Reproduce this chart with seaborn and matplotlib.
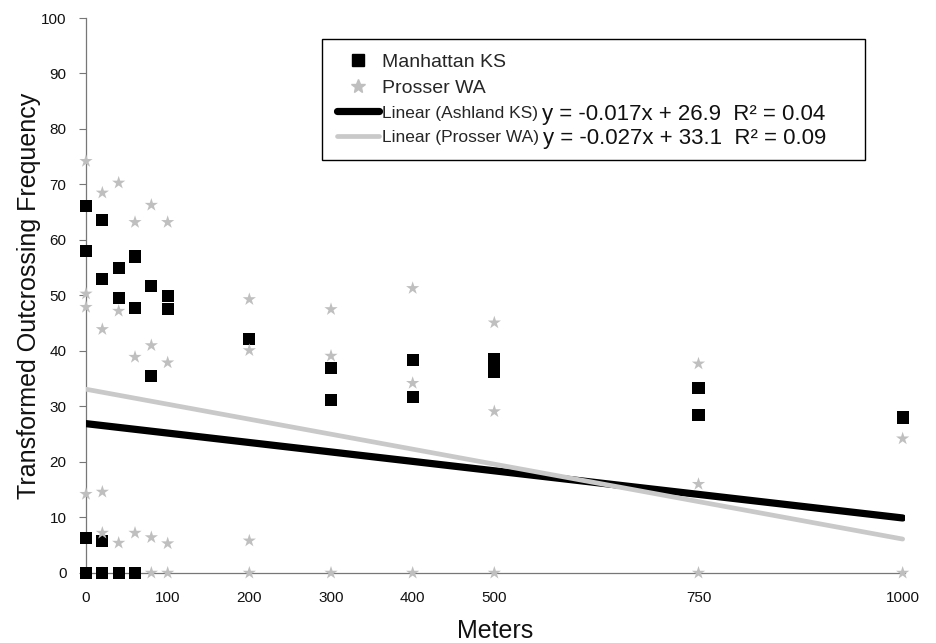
import numpy as np
import pandas as pd
import matplotlib
matplotlib.use("Agg")
import matplotlib.pyplot as plt
from matplotlib.lines import Line2D
from matplotlib import font_manager
import seaborn as sns

# Distance from source (m) and transformed outcrossing frequency
manhattan_x = [0, 0, 0, 0, 20, 20, 20, 20, 40, 40, 40, 60, 60, 60, 80, 80,
               100, 100, 200, 300, 300, 400, 400, 500, 500, 750, 750, 1000]
manhattan_y = [66.1, 58.0, 6.3, 0, 63.6, 53.0, 5.8, 0, 54.9, 49.6, 0, 57.0, 47.8, 0, 51.7, 35.5,
               49.9, 47.5, 42.2, 36.9, 31.2, 38.4, 31.7, 38.6, 36.3, 33.3, 28.4, 28.0]

prosser_x = [0, 0, 0, 0, 20, 20, 20, 20, 40, 40, 40, 60, 60, 60, 80, 80, 80, 80,
             100, 100, 100, 100, 200, 200, 200, 200, 300, 300, 300, 400, 400, 400,
             500, 500, 500, 750, 750, 750, 1000, 1000]
prosser_y = [74.2, 50.3, 47.9, 14.2, 68.5, 43.9, 14.6, 7.2, 70.3, 47.2, 5.4, 63.2, 38.9, 7.2,
             66.3, 41.0, 6.4, 0, 63.2, 37.9, 5.3, 0, 49.3, 40.1, 5.8, 0, 47.5, 39.1, 0,
             51.3, 34.2, 0, 45.1, 29.1, 0, 37.7, 16.0, 0, 24.2, 0]

# Linear trend lines as reported
trend_names = ["Ashland KS", "Prosser WA"]
trend_slopes = [-0.017, -0.027]
trend_intercepts = [26.9, 33.1]
trend_r2 = ["0.04", "0.09"]
trend_range = [0, 1000]

x_ticks = [0, 100, 200, 300, 400, 500, 750, 1000]
y_ticks = list(range(0, 101, 10))

sns.set_theme(style="white")
plt.rcParams["font.family"] = ["Liberation Sans", "DejaVu Sans"]

installed = {f.name for f in font_manager.fontManager.ttflist}
narrow_family = "Liberation Sans Narrow" if "Liberation Sans Narrow" in installed else "Liberation Sans"
narrow_size = 13.5 if narrow_family == "Liberation Sans Narrow" else 12.5

points = pd.concat([
    pd.DataFrame({"Meters": manhattan_x, "Freq": manhattan_y, "Site": "Manhattan KS"}),
    pd.DataFrame({"Meters": prosser_x, "Freq": prosser_y, "Site": "Prosser WA"}),
], ignore_index=True)

trend_rows = []
for name, m, b in zip(trend_names, trend_slopes, trend_intercepts):
    for xv in trend_range:
        trend_rows.append({"Meters": xv, "Freq": m * xv + b, "Fit": name})
trends = pd.DataFrame(trend_rows)

fig = plt.figure(figsize=(9.36, 6.43), dpi=100)
ax = fig.add_axes([0.0919, 0.109, 0.8751, 0.863])

black = "#000000"
grey = "#bfbfbf"
grey_line = "#c9c9c9"

sns.scatterplot(data=points[points.Site == "Manhattan KS"], x="Meters", y="Freq",
                marker="s", s=78, color=black, edgecolor="none", ax=ax,
                clip_on=False, zorder=3, legend=False)
sns.scatterplot(data=points[points.Site == "Prosser WA"], x="Meters", y="Freq",
                marker="*", s=100, color=grey, edgecolor="none", ax=ax,
                clip_on=False, zorder=4, legend=False)

sns.lineplot(data=trends[trends.Fit == "Ashland KS"], x="Meters", y="Freq",
             color=black, lw=5.2, ax=ax, zorder=5, legend=False)
sns.lineplot(data=trends[trends.Fit == "Prosser WA"], x="Meters", y="Freq",
             color=grey_line, lw=3.4, ax=ax, zorder=5, legend=False)

ax.set_xlim(0, 1003)
ax.set_ylim(0, 100)
ax.set_xticks(x_ticks)
ax.set_yticks(y_ticks)
ax.tick_params(axis="x", length=0, labelsize=11, pad=13, labelcolor="#111111")
ax.tick_params(axis="y", left=True, length=5, width=0.8, color="#777777",
               labelsize=11, pad=9, labelcolor="#111111")
for side in ("top", "right"):
    ax.spines[side].set_visible(False)
for side in ("left", "bottom"):
    ax.spines[side].set_color("#777777")
    ax.spines[side].set_linewidth(0.9)

ax.set_xlabel("Meters", fontsize=18, labelpad=10, color="#111111")
ax.set_ylabel("Transformed Outcrossing Frequency", fontsize=18, labelpad=0, color="#111111")

labels = ["Manhattan KS", "Prosser WA"] + [f"Linear ({n})" for n in trend_names]
handles = [
    Line2D([], [], ls="none", marker="s", ms=8, color=black),
    Line2D([], [], ls="none", marker="*", ms=10, color=grey),
    Line2D([], [], color=black, lw=5.2),
    Line2D([], [], color=grey_line, lw=3.4),
]
leg = ax.legend(handles, labels, loc="upper left",
                bbox_to_anchor=(0.288, 0.75, 0.663, 0.212), mode="expand",
                fontsize=14, frameon=True, fancybox=False, edgecolor="black",
                framealpha=1, borderpad=0.75, labelspacing=0.4, handlelength=2.2,
                handletextpad=0.15, borderaxespad=0)
leg.get_frame().set_linewidth(1.0)

# Fit equations follow the "Linear (...)" entries in a larger type
leg_texts = leg.get_texts()
for i, (m, b, r2) in enumerate(zip(trend_slopes, trend_intercepts, trend_r2)):
    t = leg_texts[2 + i]
    t.set_fontfamily([narrow_family, "DejaVu Sans"])
    t.set_fontsize(narrow_size)
    ax.annotate(f"y = {m:g}x + {b:g}  R² = {r2}", xy=(1, 0.5), xycoords=t,
                xytext=(3, -0.5), textcoords="offset points", ha="left", va="center",
                fontsize=16, color="#111111", zorder=6, annotation_clip=False)

fig.savefig("out.png", dpi=100)
